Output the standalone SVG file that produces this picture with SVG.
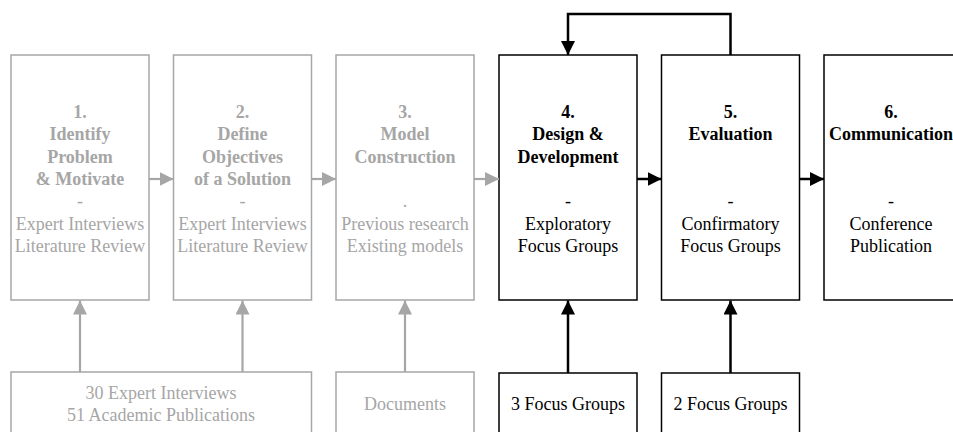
<svg xmlns="http://www.w3.org/2000/svg" width="953" height="432" viewBox="0 0 953 432" font-family="Liberation Serif, DejaVu Serif, Times New Roman, serif">
  <style>
    .bg { fill: #ffffff; }
    .box { fill: #ffffff; stroke-width: 1.5; }
    .g .box { stroke: #a6a6a6; }
    .k .box { stroke: #000000; }
    text { font-size: 18px; text-anchor: middle; }
    .g text { fill: #a6a6a6; }
    .k text { fill: #000000; }
    .b { font-weight: bold; }
    .cg { stroke: #a6a6a6; stroke-width: 2.2; fill: none; }
    .ck { stroke: #000000; stroke-width: 2.5; fill: none; }
  </style>
  <defs>
    <marker id="headG" markerUnits="userSpaceOnUse" markerWidth="14" markerHeight="14" refX="14" refY="7" orient="auto">
      <path d="M0,0 L14,7 L0,14 z" fill="#a6a6a6"/>
    </marker>
    <marker id="headK" markerUnits="userSpaceOnUse" markerWidth="14" markerHeight="14" refX="14" refY="7" orient="auto">
      <path d="M0,0 L14,7 L0,14 z" fill="#000000"/>
    </marker>
  </defs>
  <rect class="bg" x="0" y="0" width="953" height="432"/>

  <!-- process steps -->
  <g id="step1" class="g">
    <rect class="box" x="11" y="55" width="138" height="245"/>
    <text x="80" y="118" class="b">1.</text>
    <text x="80" y="140.3" class="b">Identify</text>
    <text x="80" y="162.6" class="b">Problem</text>
    <text x="80" y="184.9" class="b">&amp; Motivate</text>
    <text x="80" y="207.2">-</text>
    <text x="80" y="229.5">Expert Interviews</text>
    <text x="80" y="251.8">Literature Review</text>
  </g>
  <g id="step2" class="g">
    <rect class="box" x="173.5" y="55" width="138" height="245"/>
    <text x="242.5" y="118" class="b">2.</text>
    <text x="242.5" y="140.3" class="b">Define</text>
    <text x="242.5" y="162.6" class="b">Objectives</text>
    <text x="242.5" y="184.9" class="b">of a Solution</text>
    <text x="242.5" y="207.2">-</text>
    <text x="242.5" y="229.5">Expert Interviews</text>
    <text x="242.5" y="251.8">Literature Review</text>
  </g>
  <g id="step3" class="g">
    <rect class="box" x="336" y="55" width="138" height="245"/>
    <text x="405" y="118" class="b">3.</text>
    <text x="405" y="140.3" class="b">Model</text>
    <text x="405" y="162.6" class="b">Construction</text>
    <text x="405" y="207.2">.</text>
    <text x="405" y="229.5">Previous research</text>
    <text x="405" y="251.8">Existing models</text>
  </g>
  <g id="step4" class="k">
    <rect class="box" x="499" y="55" width="138" height="245"/>
    <text x="568" y="118" class="b">4.</text>
    <text x="568" y="140.3" class="b">Design &amp;</text>
    <text x="568" y="162.6" class="b">Development</text>
    <text x="568" y="207.2">-</text>
    <text x="568" y="229.5">Exploratory</text>
    <text x="568" y="251.8">Focus Groups</text>
  </g>
  <g id="step5" class="k">
    <rect class="box" x="661.5" y="55" width="138" height="245"/>
    <text x="730.5" y="118" class="b">5.</text>
    <text x="730.5" y="140.3" class="b">Evaluation</text>
    <text x="730.5" y="207.2">-</text>
    <text x="730.5" y="229.5">Confirmatory</text>
    <text x="730.5" y="251.8">Focus Groups</text>
  </g>
  <g id="step6" class="k">
    <rect class="box" x="824" y="55" width="138" height="245"/>
    <text x="891" y="118" class="b">6.</text>
    <text x="891" y="140.3" class="b">Communication</text>
    <text x="891" y="207.2">-</text>
    <text x="891" y="229.5">Conference</text>
    <text x="891" y="251.8">Publication</text>
  </g>

  <!-- data sources -->
  <g id="src-interviews" class="g">
    <rect class="box" x="11" y="372" width="300.5" height="80"/>
    <text x="161" y="398.5">30 Expert Interviews</text>
    <text x="161" y="420.5">51 Academic Publications</text>
  </g>
  <g id="src-documents" class="g">
    <rect class="box" x="336" y="372" width="138" height="80"/>
    <text x="405" y="409.5">Documents</text>
  </g>
  <g id="src-focus3" class="k">
    <rect class="box" x="499" y="373" width="138" height="80"/>
    <text x="568" y="410">3 Focus Groups</text>
  </g>
  <g id="src-focus2" class="k">
    <rect class="box" x="661.5" y="373" width="138" height="80"/>
    <text x="730.5" y="410">2 Focus Groups</text>
  </g>

  <!-- connectors -->
  <g id="connectors">
    <line class="cg" x1="149" y1="179" x2="173.5" y2="179" marker-end="url(#headG)"/>
    <line class="cg" x1="311.5" y1="179" x2="336" y2="179" marker-end="url(#headG)"/>
    <line class="cg" x1="474" y1="179" x2="499" y2="179" marker-end="url(#headG)"/>
    <line class="ck" x1="637" y1="179" x2="661.5" y2="179" marker-end="url(#headK)"/>
    <line class="ck" x1="799.5" y1="179" x2="824" y2="179" marker-end="url(#headK)"/>

    <polyline class="ck" points="730.5,55 730.5,14 568,14 568,55" marker-end="url(#headK)"/>

    <line class="cg" x1="80" y1="372" x2="80" y2="300.5" marker-end="url(#headG)"/>
    <line class="cg" x1="242.5" y1="372" x2="242.5" y2="300.5" marker-end="url(#headG)"/>
    <line class="cg" x1="405" y1="372" x2="405" y2="300.5" marker-end="url(#headG)"/>
    <line class="ck" x1="568" y1="373" x2="568" y2="300.5" marker-end="url(#headK)"/>
    <line class="ck" x1="730.5" y1="373" x2="730.5" y2="300.5" marker-end="url(#headK)"/>
  </g>
</svg>
